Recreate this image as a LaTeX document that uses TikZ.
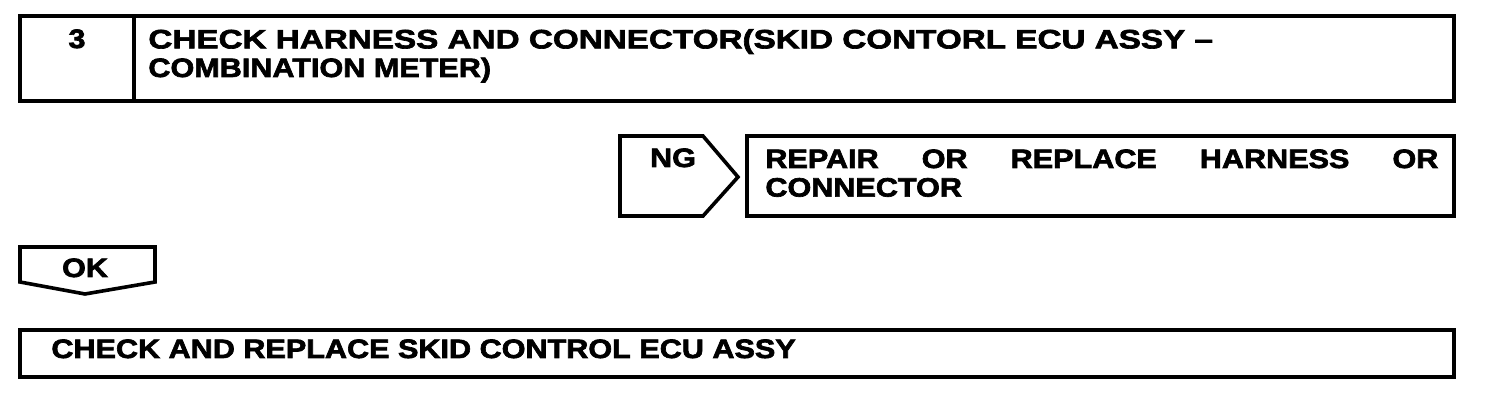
\documentclass[tikz,border=0pt]{standalone}
\usepackage{fontspec}
\setmainfont{Liberation Sans}[FakeStretch=1.15, FakeBold=2.5]
\usepackage{tikz}

\tikzset{
  boxline/.style={draw=black, line width=1.8pt, line join=miter},
  lbl/.style={inner sep=0pt, font=\fontsize{13.3}{14.3}\selectfont\bfseries},
}

\begin{document}
\begin{tikzpicture}[x=0.5pt, y=-0.5pt]
          \useasboundingbox (0,0) rectangle (1504,410);
          % step 3 header
          \draw[boxline] (20,16) rectangle (1454,101);
          \draw[boxline] (134,16) -- (134,101);
          \node[lbl, anchor=base] (stepno) at (77,48) {3};
          \node[lbl, anchor=base west, align=left] (title) at (148,77)
            {\addfontfeature{FakeStretch=1.25}CHECK HARNESS AND CONNECTOR(SKID CONTORL ECU ASSY --\\COMBINATION METER)};
          % NG branch
          \draw[boxline] (620,136) -- (703,136) -- (738,177) -- (703,216) -- (620,216) -- cycle;
          \node[lbl, anchor=base] (ng) at (673,167) {NG};
          \draw[boxline] (747,136) rectangle (1454,216);
          \node[lbl, anchor=base west, align=left, text width=336.5pt] (repair) at (765,168)
            {REPAIR\hfill OR\hfill REPLACE\hfill HARNESS\hfill OR\\CONNECTOR};
          % OK branch
          \draw[boxline] (20,247) -- (155,247) -- (155,282) -- (85,294) -- (20,282) -- cycle;
          \node[lbl, anchor=base] (ok) at (85,277) {OK};
          \draw[boxline] (20,330) rectangle (1454,377);
          \node[lbl, anchor=base west] (ecu) at (51,358) {CHECK AND REPLACE SKID CONTROL ECU ASSY};
        \end{tikzpicture}
\end{document}
